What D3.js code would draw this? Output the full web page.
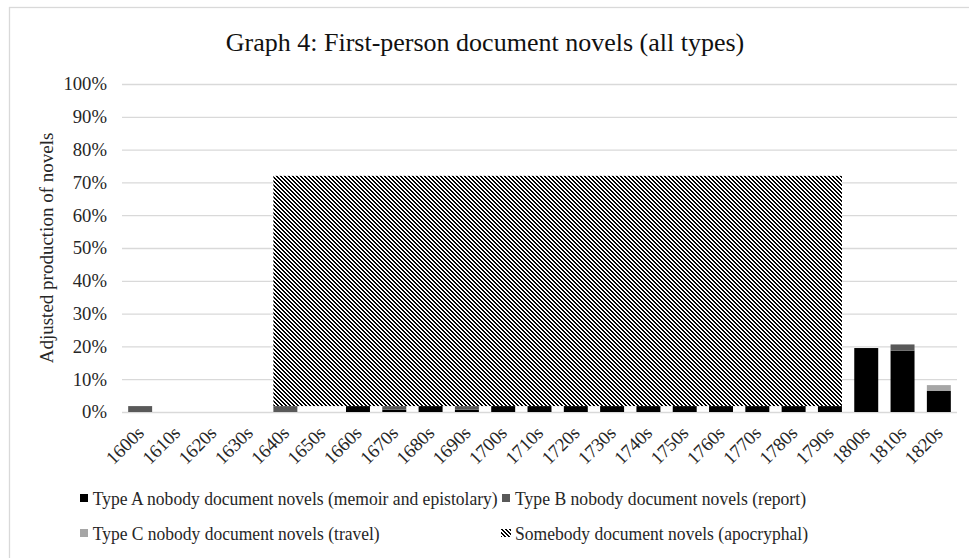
<!DOCTYPE html>
<html>
<head>
<meta charset="utf-8">
<script src="https://cdn.jsdelivr.net/npm/d3@7"></script>
<style>
  body { margin: 0; background: #fff; }
  svg { display: block; }
  text { font-family: "Liberation Serif", "Times New Roman", serif; }
</style>
</head>
<body>
<svg id="chart" width="969" height="558"></svg>
<script>
// Decades on the category axis
const decades = ["1600s","1610s","1620s","1630s","1640s","1650s","1660s","1670s","1680s","1690s",
  "1700s","1710s","1720s","1730s","1740s","1750s","1760s","1770s","1780s","1790s",
  "1800s","1810s","1820s"];

// Adjusted production (%) per decade, one array per stacked series
const typeA = [0,0,0,0,0,0,1.8,0.7,1.8,0.7,1.8,1.8,1.8,1.8,1.8,1.8,1.8,1.8,1.8,1.8,19.5,18.7,6.4];
const typeB = [1.8,0,0,0,1.8,0,0,1.1,0,1.1,0,0,0,0,0,0,0,0,0,0,0,1.9,0];
const typeC = [0,0,0,0,0,0,0,0,0,0,0,0,0,0,0,0,0,0,0,0,0,0,1.8];
// Somebody (apocryphal) novels: top of the hatched block, and its floor
const somebody = [null,null,null,null,72,72,72,72,72,72,72,72,72,72,72,72,72,72,72,72,null,null,null];
const somebodyFloor = 1.8;

const yTicks = [0,10,20,30,40,50,60,70,80,90,100];
const seriesKeys = ["A","B","C"];
const seriesColors = {A: "#000000", B: "#595959", C: "#a6a6a6"};
const legendItems = [
  {key: "A", label: "Type A nobody document novels (memoir and epistolary)"},
  {key: "B", label: "Type B nobody document novels (report)"},
  {key: "C", label: "Type C nobody document novels (travel)"},
  {key: "S", label: "Somebody document novels (apocryphal)"}
];

const svg = d3.select("#chart");
const plot = {left: 122, right: 957, top: 84, bottom: 412};

const x = d3.scaleBand().domain(decades)
  .range([plot.left, plot.right]).paddingInner(0.34).paddingOuter(0.17);
const y = d3.scaleLinear().domain([0, 100]).range([plot.bottom, plot.top]);

// Diagonal stripe fill for the apocryphal block
const defs = svg.append("defs");
const pat = defs.append("pattern").attr("id", "hatch")
  .attr("patternUnits", "userSpaceOnUse").attr("width", 4).attr("height", 4);
pat.append("rect").attr("width", 4).attr("height", 4).attr("fill", "#fff");
for (let r = 0; r < 4; r++) {
  [r, (r + 1) % 4].forEach(c => {
    pat.append("rect").attr("x", c).attr("y", r).attr("width", 1).attr("height", 1).attr("fill", "#000");
  });
}

// Chart frame
svg.append("rect").attr("x", 9.5).attr("y", 7.5).attr("width", 962).attr("height", 560)
  .attr("fill", "#fff").attr("stroke", "#d9d9d9").attr("stroke-width", 1.3);

// Title
svg.append("text").attr("x", 485).attr("y", 51).attr("text-anchor", "middle")
  .attr("font-size", 26).attr("fill", "#111")
  .text("Graph 4: First-person document novels (all types)");

// Y axis with gridlines
const yAxis = svg.append("g").attr("transform", `translate(${plot.left},0)`)
  .call(d3.axisLeft(y).tickValues(yTicks).tickFormat(d => d + "%")
    .tickSize(-(plot.right - plot.left)).tickPadding(15));
yAxis.select(".domain").remove();
yAxis.selectAll("line").attr("stroke", "#d9d9d9").attr("stroke-width", 1.3);
yAxis.selectAll("text").attr("font-size", 18.7).attr("fill", "#262626")
  .attr("font-family", "Liberation Serif");

// Y axis title
svg.append("text")
  .attr("transform", `translate(53,${(plot.top + plot.bottom) / 2}) rotate(-90)`)
  .attr("text-anchor", "middle").attr("font-size", 19).attr("fill", "#262626")
  .text("Adjusted production of novels");

// Hatched block for somebody novels
const sIdx = somebody.map((v, i) => v == null ? -1 : i).filter(i => i >= 0);
const first = decades[sIdx[0]], last = decades[sIdx[sIdx.length - 1]];
const sTop = d3.max(somebody);
svg.append("rect")
  .attr("x", x(first)).attr("width", x(last) + x.bandwidth() - x(first))
  .attr("y", y(sTop)).attr("height", y(somebodyFloor) - y(sTop))
  .attr("fill", "url(#hatch)");

// Stacked bars
const rows = decades.map((d, i) => ({decade: d, A: typeA[i], B: typeB[i], C: typeC[i]}));
const stacked = d3.stack().keys(seriesKeys)(rows);
svg.append("g").selectAll("g").data(stacked).join("g")
  .attr("fill", s => seriesColors[s.key])
  .selectAll("rect").data(s => s.filter(p => p[1] - p[0] > 0)).join("rect")
  .attr("x", p => x(p.data.decade)).attr("width", x.bandwidth())
  .attr("y", p => y(p[1])).attr("height", p => y(p[0]) - y(p[1]));

// Category labels, rotated 45 degrees
svg.append("g").selectAll("text").data(decades).join("text")
  .attr("transform", d => `translate(${x(d) + x.bandwidth() / 2 + 5},434) rotate(-45)`)
  .attr("text-anchor", "end").attr("font-size", 18.7).attr("fill", "#262626")
  .text(d => d);

// Legend
const legendPos = [
  {x: 92.7, y: 505, w: 405, sx: 80, sw: 8},
  {x: 515, y: 505, w: 291, sx: 502, sw: 8},
  {x: 92.7, y: 540, w: 287, sx: 80, sw: 8},
  {x: 515, y: 540, w: 293, sx: 501, sw: 10}
];
const lg = svg.append("g");
legendItems.forEach((item, i) => {
  const p = legendPos[i];
  lg.append("rect").attr("x", p.sx).attr("y", p.y - 11).attr("width", p.sw).attr("height", 8)
    .attr("fill", item.key === "S" ? "url(#hatch)" : seriesColors[item.key]);
  lg.append("text").attr("x", p.x).attr("y", p.y).attr("font-size", 19).attr("fill", "#262626")
    .attr("textLength", p.w).attr("lengthAdjust", "spacingAndGlyphs")
    .text(item.label);
});
</script>
</body>
</html>
